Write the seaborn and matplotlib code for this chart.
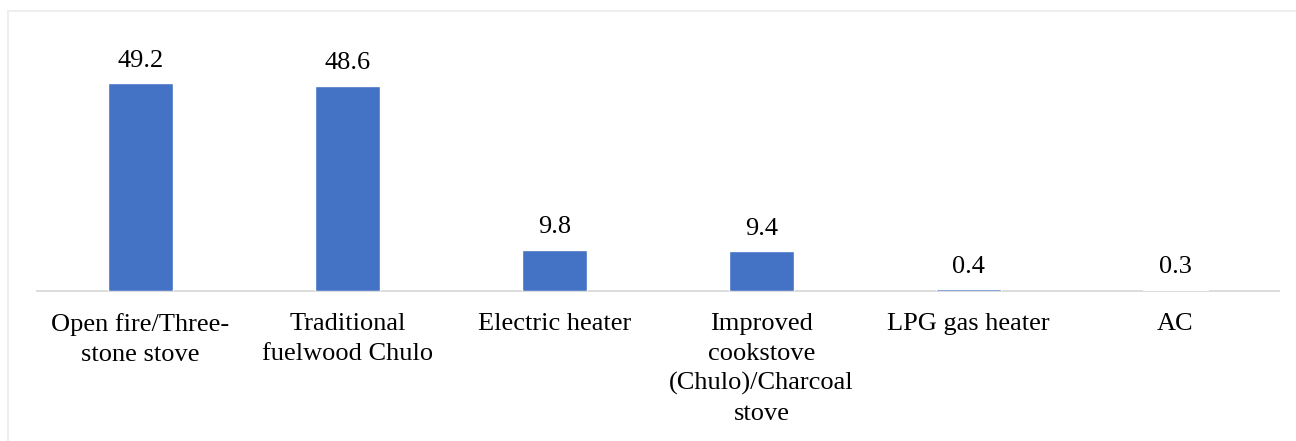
import matplotlib
matplotlib.use("Agg")
import matplotlib.pyplot as plt
import seaborn as sns
import pandas as pd
from matplotlib.lines import Line2D

# data
categories = [
    "Open fire/Three-\nstone stove",
    "Traditional\nfuelwood Chulo",
    "Electric heater",
    "Improved\ncookstove\n(Chulo)/Charcoal\nstove",
    "LPG gas heater",
    "AC",
]
shares = [49.2, 48.6, 9.8, 9.4, 0.4, 0.3]

df = pd.DataFrame({"device": categories, "share": shares})

sns.set_theme(style="white")
plt.rcParams["font.family"] = ["Liberation Serif", "DejaVu Serif"]

fig = plt.figure(figsize=(12.96, 4.41), dpi=100)
W, H = 1296, 441
ax = fig.add_axes([37 / W, (H - 291) / H, (1279 - 37) / W, (291 - 40) / H])

sns.barplot(data=df, x="device", y="share", color="#4472C4", width=0.315,
            saturation=1, ax=ax, zorder=3)

ax.set_ylim(0, 59.5)
ax.set_xlim(-0.5, len(categories) - 0.5)
ax.set_xlabel("")
ax.set_ylabel("")
ax.set_yticks([])
for s in ["top", "left", "right"]:
    ax.spines[s].set_visible(False)
ax.spines["bottom"].set_color("#D9D9D9")
ax.spines["bottom"].set_linewidth(1.3)
ax.spines["bottom"].set_zorder(1)
ax.tick_params(axis="x", length=0, pad=16, labelsize=19, colors="black")
for lbl in ax.get_xticklabels():
    lbl.set_linespacing(1.43)

for c in ax.containers:
    ax.bar_label(c, fmt="%.1f", padding=8.5, fontsize=19, color="black")

# thin frame around the chart area
fig.add_artist(Line2D([8 / W, 1.0], [1 - 11 / H, 1 - 11 / H],
                      transform=fig.transFigure, color="#EEEEEE", lw=1.5))
fig.add_artist(Line2D([8 / W, 8 / W], [0, 1 - 11 / H],
                      transform=fig.transFigure, color="#EEEEEE", lw=1.5))

fig.savefig("out.png", dpi=100, facecolor="white")
